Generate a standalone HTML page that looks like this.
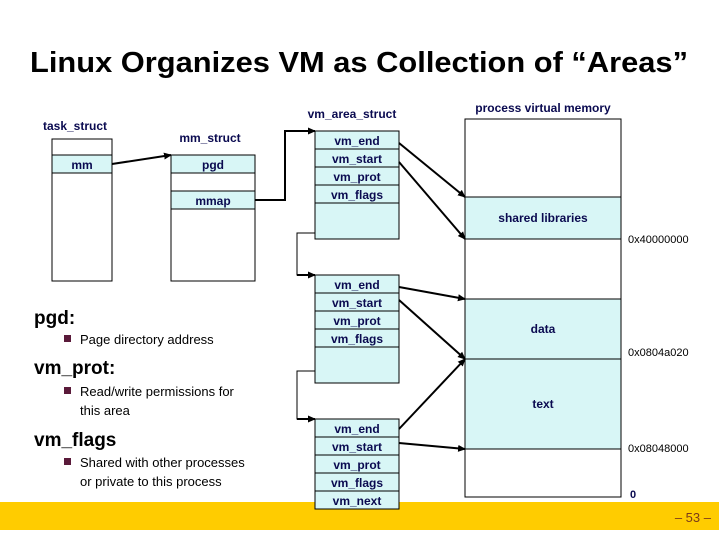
<!DOCTYPE html>
<html><head><meta charset="utf-8"><style>
html,body{margin:0;padding:0;background:#fff;}
svg{display:block;}
text{font-family:"Liberation Sans",sans-serif;}
.d{fill:#0a0a50;font-weight:bold;font-size:12px;}
.c{fill:#d8f6f6;stroke:#000;stroke-width:1;}
.w{fill:#fff;stroke:#000;stroke-width:1;}
</style></head><body>
<svg width="719" height="539" viewBox="0 0 719 539" xmlns="http://www.w3.org/2000/svg">
<defs><marker id="a" markerWidth="8" markerHeight="8" refX="7" refY="4" orient="auto" markerUnits="userSpaceOnUse"><path d="M0,0.5 L8,4 L0,7.5z" fill="#000"/></marker></defs>
<rect x="0" y="502" width="719" height="28" fill="#ffcc00"/>
<text x="711" y="522" text-anchor="end" font-size="13" fill="#7a3a1a">– 53 –</text>
<text x="30" y="72" font-size="29" font-weight="bold" fill="#000" textLength="658" lengthAdjust="spacingAndGlyphs">Linux Organizes VM as Collection of “Areas”</text>

<!-- task_struct -->
<text x="75" y="130" text-anchor="middle" class="d" font-size="12">task_struct</text>
<rect x="52" y="139" width="60" height="142" class="w"/>
<rect x="52" y="155" width="60" height="18" class="c"/>
<text x="82" y="169" text-anchor="middle" class="d">mm</text>

<!-- mm_struct -->
<text x="210" y="142" text-anchor="middle" class="d">mm_struct</text>
<rect x="171" y="155" width="84" height="126" class="w"/>
<rect x="171" y="155" width="84" height="18" class="c"/>
<text x="213" y="169" text-anchor="middle" class="d">pgd</text>
<rect x="171" y="191" width="84" height="18" class="c"/>
<text x="213" y="205" text-anchor="middle" class="d">mmap</text>
<line x1="112" y1="164" x2="171" y2="155" stroke="#000" stroke-width="2" marker-end="url(#a)"/>
<polyline points="255,200 285,200 285,131 315,131" fill="none" stroke="#000" stroke-width="2" marker-end="url(#a)"/>

<text x="352" y="118" text-anchor="middle" class="d">vm_area_struct</text>
<!-- box1 -->
<rect x="315" y="131" width="84" height="108" class="c"/>
<g stroke="#000"><line x1="315" y1="149" x2="399" y2="149"/><line x1="315" y1="167" x2="399" y2="167"/><line x1="315" y1="185" x2="399" y2="185"/><line x1="315" y1="203" x2="399" y2="203"/></g>
<text x="357" y="145" text-anchor="middle" class="d" font-size="13">vm_end</text>
<text x="357" y="163" text-anchor="middle" class="d" font-size="13">vm_start</text>
<text x="357" y="181" text-anchor="middle" class="d" font-size="13">vm_prot</text>
<text x="357" y="199" text-anchor="middle" class="d" font-size="13">vm_flags</text>
<!-- box2 -->
<rect x="315" y="275" width="84" height="108" class="c"/>
<g stroke="#000"><line x1="315" y1="293" x2="399" y2="293"/><line x1="315" y1="311" x2="399" y2="311"/><line x1="315" y1="329" x2="399" y2="329"/><line x1="315" y1="347" x2="399" y2="347"/></g>
<text x="357" y="289" text-anchor="middle" class="d" font-size="13">vm_end</text>
<text x="357" y="307" text-anchor="middle" class="d" font-size="13">vm_start</text>
<text x="357" y="325" text-anchor="middle" class="d" font-size="13">vm_prot</text>
<text x="357" y="343" text-anchor="middle" class="d" font-size="13">vm_flags</text>
<!-- box3 -->
<rect x="315" y="419" width="84" height="90" class="c"/>
<g stroke="#000"><line x1="315" y1="437" x2="399" y2="437"/><line x1="315" y1="455" x2="399" y2="455"/><line x1="315" y1="473" x2="399" y2="473"/><line x1="315" y1="491" x2="399" y2="491"/></g>
<text x="357" y="433" text-anchor="middle" class="d" font-size="13">vm_end</text>
<text x="357" y="451" text-anchor="middle" class="d" font-size="13">vm_start</text>
<text x="357" y="469" text-anchor="middle" class="d" font-size="13">vm_prot</text>
<text x="357" y="487" text-anchor="middle" class="d" font-size="13">vm_flags</text>
<text x="357" y="505" text-anchor="middle" class="d" font-size="13">vm_next</text>

<polyline points="315,233 297,233 297,275 315,275" fill="none" stroke="#000" stroke-width="1"/>
<line x1="297" y1="275" x2="315" y2="275" stroke="#000" stroke-width="2" marker-end="url(#a)"/>
<polyline points="315,371 297,371 297,419 315,419" fill="none" stroke="#000" stroke-width="1"/>
<line x1="297" y1="419" x2="315" y2="419" stroke="#000" stroke-width="2" marker-end="url(#a)"/>

<!-- process VM -->
<text x="543" y="112" text-anchor="middle" class="d">process virtual memory</text>
<rect x="465" y="119" width="156" height="378" class="w"/>
<rect x="465" y="197" width="156" height="42" class="c"/>
<text x="543" y="222" text-anchor="middle" class="d" font-size="13">shared libraries</text>
<rect x="465" y="299" width="156" height="60" class="c"/>
<text x="543" y="333" text-anchor="middle" class="d" font-size="13">data</text>
<rect x="465" y="359" width="156" height="90" class="c"/>
<text x="543" y="408" text-anchor="middle" class="d" font-size="13">text</text>
<g font-size="11" fill="#000">
<text x="628" y="243">0x40000000</text>
<text x="628" y="356">0x0804a020</text>
<text x="628" y="452">0x08048000</text>
<text x="630" y="498" font-weight="bold" fill="#0a0a50">0</text>
</g>

<g stroke="#000" stroke-width="2" marker-end="url(#a)">
<line x1="399" y1="143" x2="465" y2="197"/>
<line x1="399" y1="162" x2="465" y2="239"/>
<line x1="399" y1="287" x2="465" y2="299"/>
<line x1="399" y1="300" x2="465" y2="359"/>
<line x1="399" y1="429" x2="465" y2="359"/>
<line x1="399" y1="443" x2="465" y2="449"/>
</g>

<!-- left notes -->
<g fill="#000">
<text x="34" y="324" font-size="19" font-weight="bold">pgd:</text>
<rect x="64" y="335" width="7" height="7" fill="#5a1a3a"/>
<text x="80" y="344" font-size="13">Page directory address</text>
<text x="34" y="374" font-size="19" font-weight="bold">vm_prot:</text>
<rect x="64" y="387" width="7" height="7" fill="#5a1a3a"/>
<text x="80" y="396" font-size="13">Read/write permissions for</text>
<text x="80" y="415" font-size="13">this area</text>
<text x="34" y="446" font-size="19" font-weight="bold">vm_flags</text>
<rect x="64" y="458" width="7" height="7" fill="#5a1a3a"/>
<text x="80" y="467" font-size="13">Shared with other processes</text>
<text x="80" y="486" font-size="13">or private to this process</text>
</g>
</svg>
</body></html>
